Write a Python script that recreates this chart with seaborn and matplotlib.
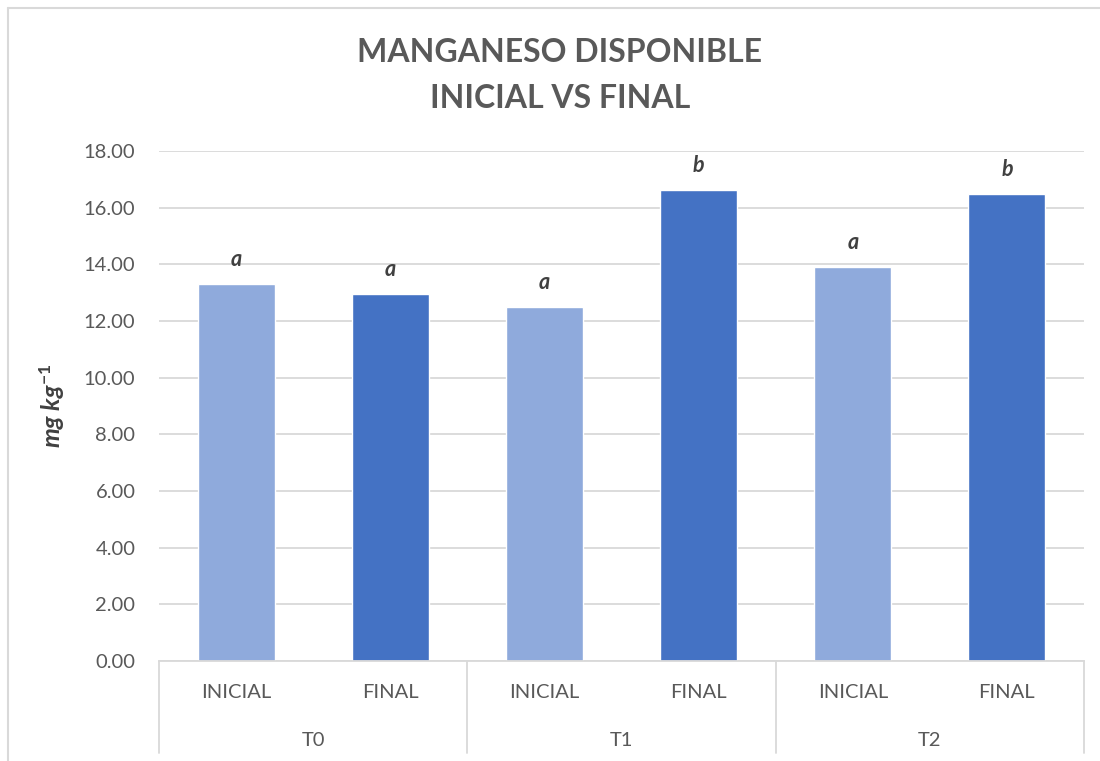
import matplotlib
matplotlib.use("Agg")
import matplotlib.pyplot as plt
import seaborn as sns
import pandas as pd
from matplotlib.lines import Line2D
import matplotlib.transforms as mtransforms

# ---- data ----
tratamientos = ["T0", "T0", "T1", "T1", "T2", "T2"]
etapas = ["INICIAL", "FINAL", "INICIAL", "FINAL", "INICIAL", "FINAL"]
valores = [13.29, 12.94, 12.48, 16.61, 13.89, 16.47]
letras = ["a", "a", "a", "b", "a", "b"]
grupos = ["T0", "T1", "T2"]
yticks = [0, 2, 4, 6, 8, 10, 12, 14, 16, 18]

df = pd.DataFrame({
    "trat": tratamientos,
    "etapa": etapas,
    "valor": valores,
})
df["clave"] = df["trat"] + "_" + df["etapa"]
orden = list(df["clave"])

sns.set_theme(style="white")
plt.rcParams["font.family"] = ["Lato", "DejaVu Sans"]
plt.rcParams["mathtext.fontset"] = "custom"
plt.rcParams["mathtext.it"] = "Lato:italic:bold"
plt.rcParams["mathtext.rm"] = "Lato:bold"

GRAY = "#595959"
GRID = "#d9d9d9"

fig = plt.figure(figsize=(11, 7.61), dpi=100)
ax = fig.add_axes([159 / 1100, (761 - 661) / 761, (1084 - 159) / 1100, 510 / 761])

sns.barplot(data=df, x="clave", y="valor", hue="etapa", order=orden,
            palette={"INICIAL": "#8FAADC", "FINAL": "#4472C4"},
            dodge=False, width=0.5, saturation=1, legend=False, ax=ax)

ax.set_ylim(0, 18)
ax.set_xlim(-0.5, len(orden) - 0.5)
ax.set_yticks(yticks)
ax.set_yticklabels([f"{v:.2f}" for v in yticks], fontsize=14.5, color=GRAY)
ax.tick_params(axis="y", length=0, pad=17)
ax.tick_params(axis="x", length=0)
ax.set_xticks([])
ax.set_xlabel("")
ax.grid(axis="y", color=GRID, lw=1.3)
ax.set_axisbelow(True)
for s in ["top", "right", "left"]:
    ax.spines[s].set_visible(False)
ax.spines["bottom"].set_color(GRID)
ax.spines["bottom"].set_linewidth(1.3)

ax.set_ylabel(r"mg kg$^{-1}$", fontsize=18, fontstyle="italic", fontweight="bold",
              color="#404040", labelpad=12)

# letters above bars
for i, (v, l) in enumerate(zip(valores, letras)):
    ax.annotate(l, (i, v), xytext=(0, 18), textcoords="offset points",
                ha="center", va="center", fontsize=15.5, fontstyle="italic",
                fontweight="bold", color="#404040")

# multi-level category axis
trans = mtransforms.blended_transform_factory(ax.transData, ax.transAxes)
for i, e in enumerate(etapas):
    ax.text(i, -31 / 510, e, transform=trans, ha="center", va="center",
            fontsize=14.5, color=GRAY)
for g, name in enumerate(grupos):
    ax.text(2 * g + 0.5, -80 / 510, name, transform=trans, ha="center",
            va="center", fontsize=14.5, color=GRAY)
for xb in [0, 1 / 3, 2 / 3, 1]:
    ax.add_line(Line2D([xb, xb], [0, -92 / 510], transform=ax.transAxes,
                       color=GRID, lw=1.3, clip_on=False))

# title
fig.text(560 / 1100, 1 - 53 / 761, "MANGANESO DISPONIBLE", ha="center",
         va="center", fontsize=23, fontweight="bold", color=GRAY)
fig.text(560 / 1100, 1 - 98 / 761, "INICIAL VS FINAL", ha="center",
         va="center", fontsize=23, fontweight="bold", color=GRAY)

# chart border (left and top visible)
fig.add_artist(Line2D([7.5 / 1100, 7.5 / 1100], [0, 1 - 7.5 / 761],
                      transform=fig.transFigure, color=GRID, lw=1.5))
fig.add_artist(Line2D([7.5 / 1100, 1], [1 - 7.5 / 761, 1 - 7.5 / 761],
                      transform=fig.transFigure, color=GRID, lw=1.5))

fig.savefig("out.png", dpi=100)
